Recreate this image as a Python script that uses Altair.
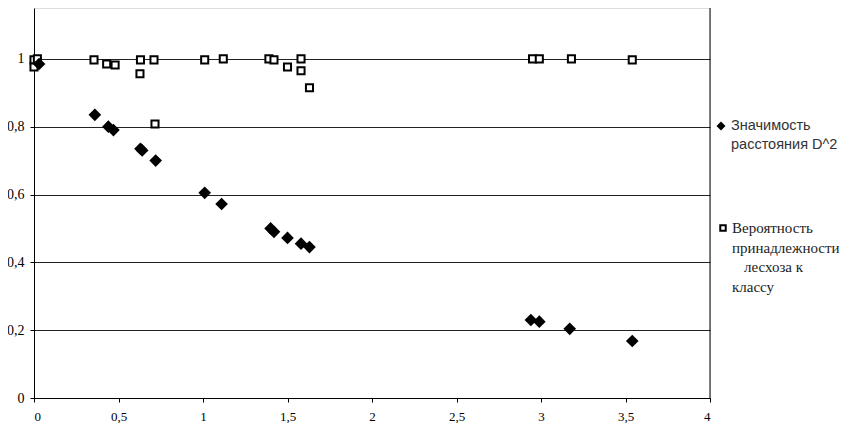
import altair as alt
import pandas as pd

# Series 1: significance of distance D^2 (filled diamonds)
d2_x = [0.03, 0.36, 0.44, 0.47, 0.63, 0.64, 0.72, 1.01, 1.11, 1.40, 1.42, 1.50, 1.58, 1.63, 2.94, 2.99, 3.17, 3.54]
d2_y = [0.985, 0.835, 0.80, 0.79, 0.735, 0.73, 0.70, 0.605, 0.572, 0.50, 0.49, 0.472, 0.455, 0.445, 0.23, 0.225, 0.204, 0.168]

# Series 2: probability of belonging to class (hollow squares)
pr_x = [0.0, 0.02, 0.0, 0.355, 0.43, 0.48, 0.627, 0.63, 0.71, 0.716, 1.01, 1.12, 1.39, 1.42, 1.50, 1.58, 1.58, 1.63, 2.95, 2.99, 3.18, 3.54]
pr_y = [0.997, 1.0, 0.976, 0.997, 0.985, 0.982, 0.956, 0.997, 0.997, 0.808, 0.997, 1.0, 1.0, 0.997, 0.976, 1.0, 0.965, 0.915, 1.0, 1.0, 1.0, 0.997]

x_ticks = [0, 0.5, 1, 1.5, 2, 2.5, 3, 3.5, 4]
y_ticks = [0, 0.2, 0.4, 0.6, 0.8, 1.0]

legend1 = ["Значимость", "расстояния D^2"]
legend2 = ["Вероятность", "принадлежности", "лесхоза к", "классу"]
legend2_indent = [0, 0, 12, 0]

d2 = pd.DataFrame({"x": d2_x, "y": d2_y})
pr = pd.DataFrame({"x": pr_x, "y": pr_y})

W, H = 676, 390
xs = alt.Scale(domain=[0, 4], nice=False)
ys = alt.Scale(domain=[0, 1.15], nice=False)
comma = "replace(format(datum.value, '.1~f'), '.', ',')"

xax = alt.Axis(values=x_ticks, labelExpr=comma, grid=False, title=None,
               tickSize=4, labelPadding=8, domainColor="black", tickColor="black",
               labelFont="Liberation Serif", labelFontSize=13, labelColor="black")
yax = alt.Axis(values=y_ticks, labelExpr=comma, grid=True, gridColor="#222", gridWidth=1,
               title=None, tickSize=4, labelPadding=6, domainColor="black", tickColor="black",
               labelFont="Liberation Serif", labelFontSize=14, labelColor="black")

base_sq = alt.Chart(pr).mark_point(shape="square", size=50, filled=False, fill="white",
                                   stroke="black", strokeWidth=2, opacity=1).encode(
    x=alt.X("x:Q", scale=xs, axis=xax),
    y=alt.Y("y:Q", scale=ys, axis=yax),
)
dia = alt.Chart(d2).mark_point(shape="diamond", size=160, filled=True, color="black", opacity=1).encode(
    x=alt.X("x:Q", scale=xs),
    y=alt.Y("y:Q", scale=ys),
)
right = alt.Chart(pd.DataFrame({"x": [4]})).mark_rule(color="black", strokeWidth=1).encode(
    x=alt.X("x:Q", scale=xs), y=alt.value(0), y2=alt.value(H))

layers = [base_sq, dia, right]

# legend (manual)
one = pd.DataFrame({"a": [0]})
layers.append(alt.Chart(one).mark_point(shape="diamond", size=80, filled=True, color="black", opacity=1)
              .encode(x=alt.value(687), y=alt.value(118)))
for i, t in enumerate(legend1):
    layers.append(alt.Chart(one).mark_text(text=t, align="left", baseline="middle",
                                           font="Liberation Sans", fontSize=14.5, color="#333")
                  .encode(x=alt.value(697), y=alt.value(118 + 19 * i)))
layers.append(alt.Chart(one).mark_point(shape="square", size=30, filled=False, fill="white",
                                        stroke="black", strokeWidth=2, opacity=1)
              .encode(x=alt.value(689), y=alt.value(220)))
for i, t in enumerate(legend2):
    layers.append(alt.Chart(one).mark_text(text=t, align="left", baseline="middle",
                                           font="Liberation Serif", fontSize=15, color="#222")
                  .encode(x=alt.value(698 + legend2_indent[i]), y=alt.value(220 + 19.5 * i)))

chart = alt.layer(*layers).properties(
    width=W, height=H,
    autosize=alt.AutoSizeParams(type="none"),
    padding={"left": 26, "top": 0, "right": 133, "bottom": 25},
).configure_view(stroke=None).configure(background="white")

chart.save("out.html", embed_options={"renderer": "svg", "actions": False})
